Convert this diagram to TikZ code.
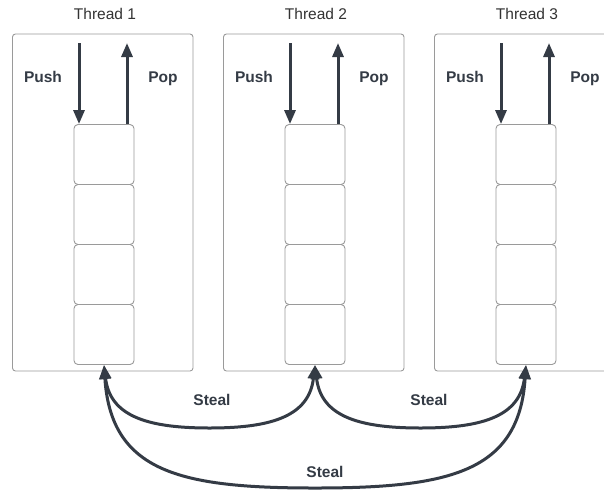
\documentclass[tikz,border=0pt]{standalone}
\usepackage{fontspec}
\setmainfont{Liberation Sans}
\usetikzlibrary{arrows.meta}
\definecolor{ink}{HTML}{343B45}
\definecolor{frame}{HTML}{9A9A9A}
\definecolor{txt}{HTML}{333333}
\tikzset{
  threadbox/.style={draw=frame, line width=0.9pt, rounded corners=3pt, minimum width=180.5pt, minimum height=337pt, inner sep=0pt},
  cellbox/.style={draw=frame, line width=0.9pt, rounded corners=4pt, minimum width=60pt, minimum height=60pt, inner sep=0pt},
  title/.style={text=txt, anchor=base, inner sep=0pt, font=\fontsize{15.5}{18}\selectfont},
  lbl/.style={text=ink, anchor=base, inner sep=0pt, font=\fontsize{15.5}{18}\selectfont\bfseries},
  flow/.style={draw=ink, line width=3pt, -{Triangle[length=14pt,width=11pt]}},
  steal/.style={draw=ink, line width=3pt, {Triangle[length=14pt,width=11pt]}-{Triangle[length=14pt,width=11pt]}},
}
\begin{document}
\begin{tikzpicture}[x=1pt,y=-1pt]
\useasboundingbox (0,0) rectangle (604,491);
\clip (0,0) rectangle (604,491);
\fill[white] (0,0) rectangle (604,491);
\foreach \i in {1,2,3}{
  \pgfmathsetmacro{\off}{(\i-1)*211}
  \node[threadbox] (thread\i) at (102.75+\off,202.5) {};
  \node[title] (title\i) at (105+\off,19.5) {Thread \i};
  \foreach \j in {1,2,3,4}{
    \node[cellbox] (cell\i\j) at (104+\off,94.5+60*\j) {};
  }
  \coordinate (push\i) at (79+\off,43);
  \coordinate (pop\i) at (127+\off,43);
  \draw[flow] (push\i) -- (push\i |- cell\i1.north);
  \draw[flow] (cell\i1.north -| pop\i) -- (pop\i);
  \node[lbl] (pushlbl\i) at (43+\off,82) {Push};
  \node[lbl] (poplbl\i) at (163+\off,82) {Pop};
}
% low points of the stealing arcs
\coordinate (low12) at (209.5,428);
\coordinate (low23) at (420.5,428);
\coordinate (low13) at (315,488);
% stealing between the bottoms of the deques
\draw[steal] (cell14.south) .. controls (110,416) and (147,428) .. (low12)
  .. controls (272,428) and (309,416) .. (cell24.south);
\draw[steal] (cell24.south) .. controls (321,416) and (358,428) .. (low23)
  .. controls (483,428) and (520,416) .. (cell34.south);
\draw[steal] (cell14.south) .. controls (111,472) and (180,488) .. (low13)
  .. controls (450,488) and (519,472) .. (cell34.south);
\node[lbl] (steal12) at (212,405) {Steal};
\node[lbl] (steal23) at (429,405) {Steal};
\node[lbl] (steal13) at (325,477) {Steal};
\end{tikzpicture}
\end{document}
